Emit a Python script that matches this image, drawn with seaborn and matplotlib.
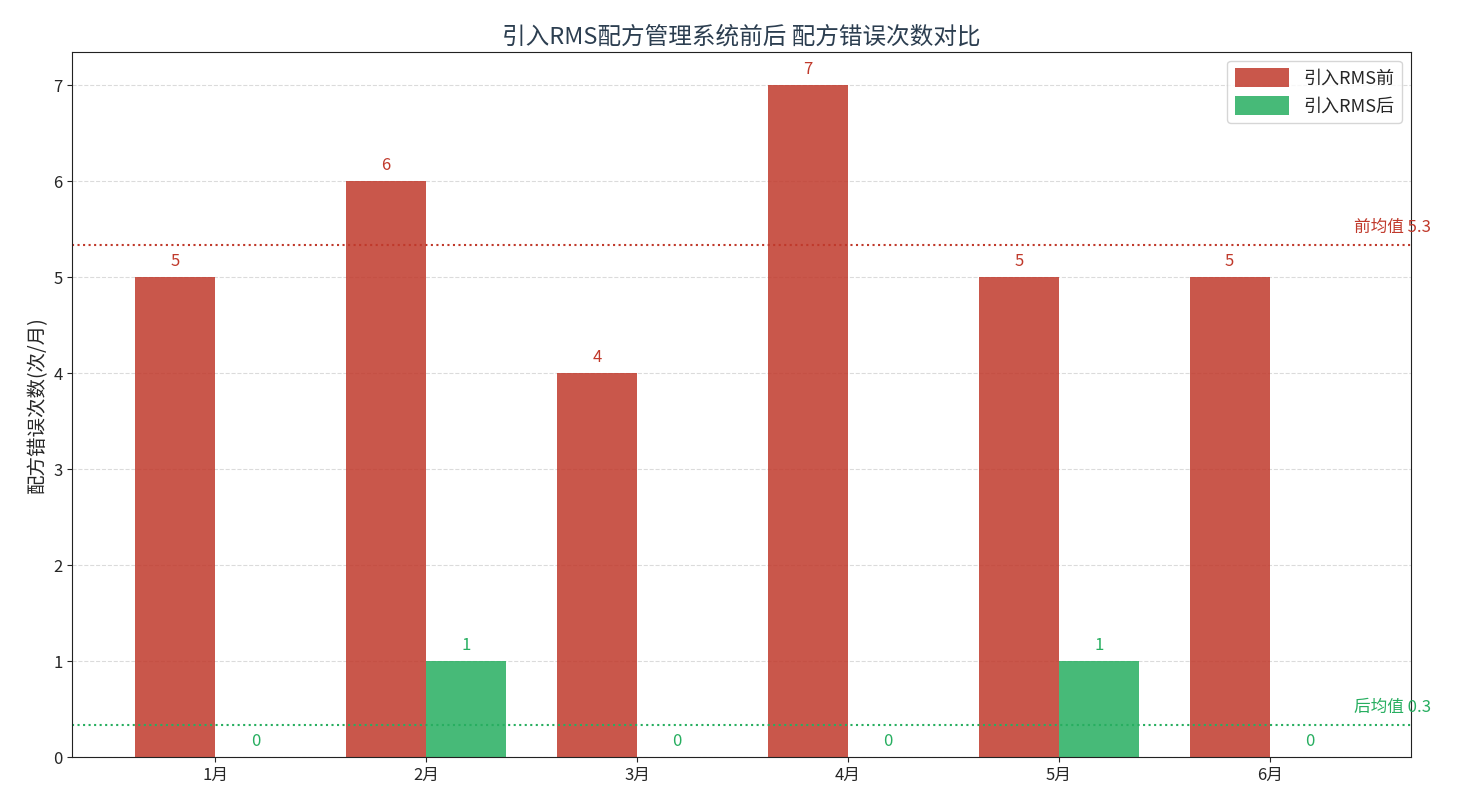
import matplotlib
matplotlib.use("Agg")
import matplotlib.pyplot as plt
import seaborn as sns
import pandas as pd
import numpy as np

months = ["1月", "2月", "3月", "4月", "5月", "6月"]
before = [5, 6, 4, 7, 5, 5]
after = [0, 1, 0, 0, 1, 0]
series_names = ["引入RMS前", "引入RMS后"]

red = "#c0392b"
green = "#27ae60"

sns.set_style("ticks")
plt.rcParams['font.family'] = ['Noto Sans CJK SC', 'DejaVu Sans']
plt.rcParams['axes.unicode_minus'] = False

df = pd.DataFrame({
    "month": months * 2,
    "value": before + after,
    "series": [series_names[0]] * len(months) + [series_names[1]] * len(months),
})

fig, ax = plt.subplots(figsize=(14.77, 8.09), dpi=100)
sns.barplot(data=df, x="month", y="value", hue="series", order=months,
            hue_order=series_names, palette=[red, green], width=0.76,
            alpha=0.85, saturation=1, ax=ax, errorbar=None, linewidth=0)

for cont, col in zip(ax.containers, [red, green]):
    for rect in cont:
        h = rect.get_height()
        ax.text(rect.get_x() + rect.get_width() / 2, h + 0.08, f"{int(round(h))}",
                ha="center", va="bottom", color=col, fontsize=12)

mb = np.mean(before)
ma = np.mean(after)
ax.axhline(mb, color=red, linestyle=":", linewidth=1.5)
ax.axhline(ma, color=green, linestyle=":", linewidth=1.5)
ax.text(5.4, mb + 0.1, f"前均值 {mb:.1f}", color=red, fontsize=12, ha="left", va="bottom")
ax.text(5.4, ma + 0.1, f"后均值 {ma:.1f}", color=green, fontsize=12, ha="left", va="bottom")

ax.set_xlim(-0.678, 5.668)
ax.set_ylim(0, 7.35)
ax.set_xlabel("")
ax.set_ylabel("配方错误次数(次/月)", fontsize=14)
ax.set_title("引入RMS配方管理系统前后 配方错误次数对比", fontsize=17, color="#2c3e50")
ax.yaxis.grid(True, linestyle="--", color="#cccccc", alpha=0.7)
ax.set_axisbelow(True)
ax.tick_params(labelsize=12)
ax.legend(loc="upper right", fontsize=13, handlelength=3, handleheight=1.2)
for s in ax.spines.values():
    s.set_visible(True)
    s.set_color("#222222")

fig.subplots_adjust(left=0.049, right=0.955, top=0.936, bottom=0.064)
fig.savefig("out.png", dpi=100)
